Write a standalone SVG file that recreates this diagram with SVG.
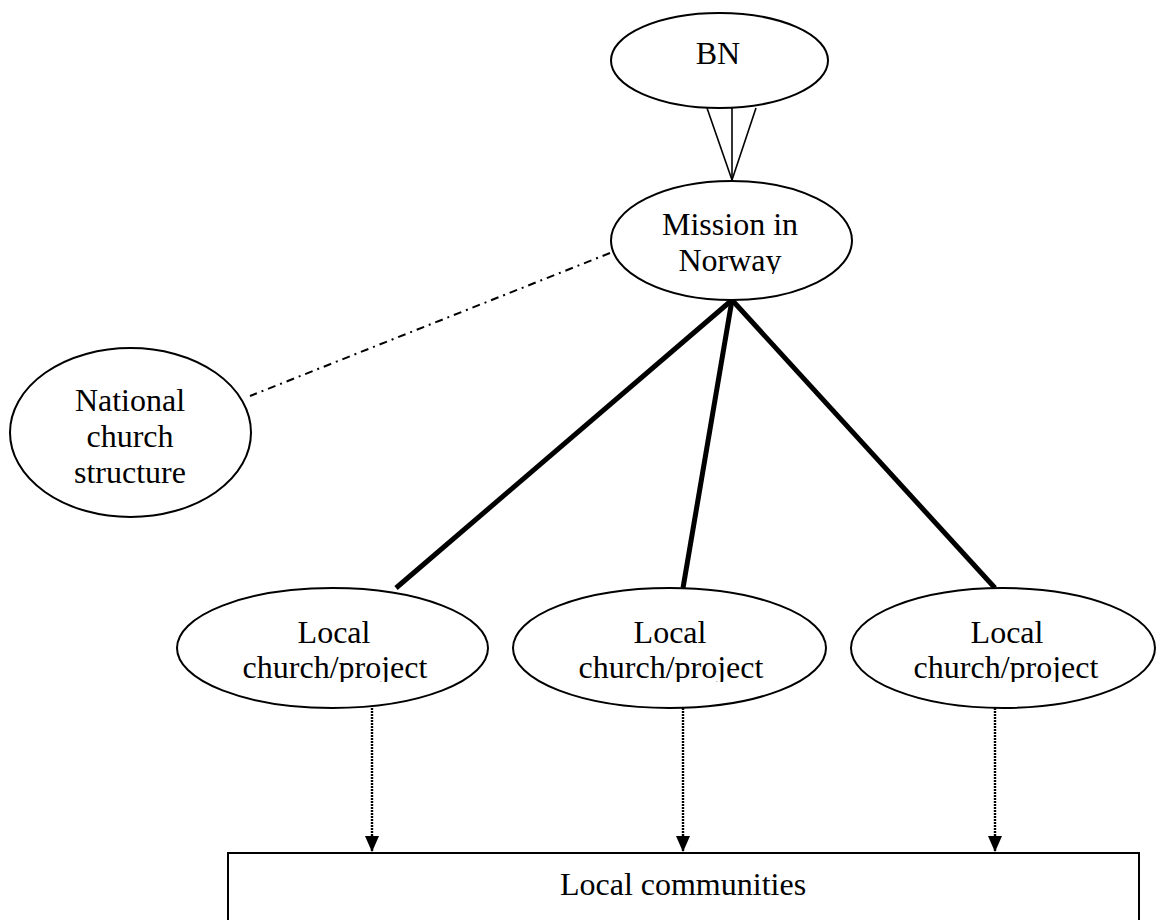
<svg xmlns="http://www.w3.org/2000/svg" width="1156" height="920" viewBox="0 0 1156 920">
  <style>
    .node { fill: #fff; stroke: #000; stroke-width: 2; }
    .label { font-family: "Liberation Serif", "Times New Roman", serif; font-size: 32px; fill: #000; text-anchor: middle; }
    .thin { stroke: #000; stroke-width: 1.6; fill: none; }
    .thick { stroke: #000; stroke-width: 5; fill: none; }
    .dashdot { stroke: #000; stroke-width: 2; stroke-dasharray: 8 5 2 5; fill: none; }
    .dotted { stroke: #000; stroke-width: 2.4; stroke-dasharray: 2 1; fill: none; }
  </style>
  <defs>
    <!-- solid triangular head, tip at the end of the line -->
    <marker id="arrow" viewBox="0 0 16 14" refX="16" refY="7" markerWidth="16" markerHeight="14" markerUnits="userSpaceOnUse" orient="auto">
      <path d="M0,0 L16,7 L0,14 Z" fill="#000"/>
    </marker>
    <clipPath id="clipLocal"><rect x="0" y="600" width="1156" height="82"/></clipPath>
    <clipPath id="clipMission"><rect x="0" y="190" width="1156" height="84"/></clipPath>
  </defs>

  <rect x="0" y="0" width="1156" height="920" fill="#fff"/>

  <g id="connectors">
    <!-- BN to Mission: three converging strokes -->
    <line class="thin" x1="707" y1="108" x2="732" y2="180"/>
    <line class="thin" x1="732" y1="108" x2="732" y2="180"/>
    <line class="thin" x1="756" y1="108" x2="732" y2="180"/>
    <!-- Mission to national church structure -->
    <line class="dashdot" x1="610" y1="253" x2="250" y2="396"/>
    <!-- Mission to local churches -->
    <line class="thick" x1="732" y1="300" x2="396" y2="588"/>
    <line class="thick" x1="732" y1="300" x2="683" y2="588"/>
    <line class="thick" x1="732" y1="300" x2="995" y2="588"/>
    <!-- Local churches to local communities -->
    <line class="dotted" x1="372" y1="708" x2="372" y2="852" marker-end="url(#arrow)"/>
    <line class="dotted" x1="683" y1="708" x2="683" y2="852" marker-end="url(#arrow)"/>
    <line class="dotted" x1="995" y1="708" x2="995" y2="852" marker-end="url(#arrow)"/>
  </g>

  <g id="bn">
    <ellipse class="node" cx="719.5" cy="60.5" rx="108.5" ry="47.5"/>
    <text class="label" x="718" y="64">BN</text>
  </g>

  <g id="mission">
    <ellipse class="node" cx="731.5" cy="240.5" rx="120.5" ry="59.5"/>
    <g clip-path="url(#clipMission)">
      <text class="label" x="730" y="235">Mission in</text>
      <text class="label" x="730" y="271">Norway</text>
    </g>
  </g>

  <g id="national">
    <ellipse class="node" cx="130.5" cy="432.5" rx="120.5" ry="84.5"/>
    <text class="label" x="130" y="411">National</text>
    <text class="label" x="130" y="447">church</text>
    <text class="label" x="130" y="483">structure</text>
  </g>

  <g id="local1">
    <ellipse class="node" cx="332.5" cy="648" rx="155.5" ry="60"/>
    <g clip-path="url(#clipLocal)">
      <text class="label" x="334" y="643">Local</text>
      <text class="label" x="335" y="678">church/project</text>
    </g>
  </g>

  <g id="local2">
    <ellipse class="node" cx="669.5" cy="648" rx="156.5" ry="60"/>
    <g clip-path="url(#clipLocal)">
      <text class="label" x="670" y="643">Local</text>
      <text class="label" x="671" y="678">church/project</text>
    </g>
  </g>

  <g id="local3">
    <ellipse class="node" cx="1003" cy="648" rx="152" ry="60"/>
    <g clip-path="url(#clipLocal)">
      <text class="label" x="1007" y="643">Local</text>
      <text class="label" x="1006" y="678">church/project</text>
    </g>
  </g>

  <g id="communities">
    <rect class="node" x="228" y="853" width="911" height="90"/>
    <text class="label" x="683" y="895">Local communities</text>
  </g>
</svg>
